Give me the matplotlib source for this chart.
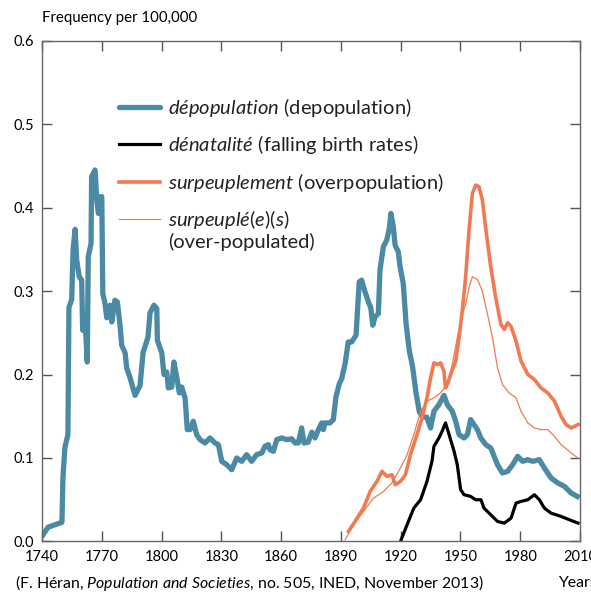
import numpy as np
import matplotlib
matplotlib.use("Agg")
import matplotlib.pyplot as plt
from matplotlib.lines import Line2D

plt.rcParams['font.family'] = ['Lato', 'DejaVu Sans']
plt.rcParams['mathtext.fontset'] = 'custom'
plt.rcParams['mathtext.it'] = 'Lato:italic'
plt.rcParams['mathtext.rm'] = 'Lato'

# dépopulation
depop_years = [1740.5, 1743.0, 1750.0, 1750.5, 1751.5, 1753.0, 1753.5, 1754.9, 1755.6, 1756.6,
               1757.4, 1758.7, 1759.9, 1760.4, 1761.6, 1762.7, 1763.2, 1764.6, 1764.9, 1766.6,
               1767.5, 1768.3, 1769.1, 1770.0, 1770.5, 1771.6, 1772.5, 1774.1, 1775.0, 1776.6,
               1777.8, 1779.1, 1780.0, 1781.7, 1782.5, 1784.2, 1786.7, 1789.2, 1790.7, 1793.2,
               1794.2, 1796.2, 1797.6, 1797.9, 1800.1, 1801.2, 1802.6, 1803.4, 1805.1, 1806.2,
               1807.6, 1808.9, 1810.1, 1811.8, 1812.9, 1814.3, 1815.9, 1817.6, 1819.3, 1821.8,
               1824.3, 1826.8, 1828.5, 1830.2, 1832.7, 1835.2, 1837.7, 1840.2, 1842.7, 1845.2,
               1847.7, 1850.3, 1851.9, 1853.6, 1854.4, 1856.1, 1857.8, 1860.3, 1862.8, 1865.3,
               1867.0, 1868.6, 1870.3, 1871.5, 1873.6, 1875.4, 1877.0, 1878.7, 1880.4, 1881.2,
               1882.0, 1884.5, 1886.2, 1887.5, 1889.2, 1890.4, 1892.1, 1893.7, 1895.4, 1897.6,
               1899.2, 1900.4, 1902.1, 1903.8, 1905.0, 1906.0, 1907.1, 1908.8, 1909.6, 1911.3,
               1913.0, 1914.3, 1915.1, 1916.3, 1917.2, 1918.8, 1919.7, 1921.3, 1922.7, 1924.3,
               1926.0, 1927.7, 1929.4, 1931.1, 1933.1, 1935.0, 1936.7, 1939.2, 1941.7, 1943.4,
               1945.9, 1947.6, 1949.3, 1951.8, 1953.5, 1955.1, 1956.8, 1958.5, 1960.2, 1962.7,
               1965.2, 1968.6, 1971.1, 1973.7, 1976.2, 1978.7, 1981.2, 1983.7, 1986.3, 1989.6,
               1992.1, 1995.5, 1998.9, 2002.2, 2005.6, 2008.6]
depop_vals = [0.008, 0.017, 0.023, 0.077, 0.113, 0.128, 0.280, 0.290, 0.350, 0.374,
              0.337, 0.317, 0.313, 0.253, 0.265, 0.215, 0.341, 0.357, 0.437, 0.445,
              0.409, 0.393, 0.413, 0.413, 0.297, 0.285, 0.268, 0.283, 0.263, 0.289,
              0.287, 0.260, 0.235, 0.226, 0.208, 0.196, 0.175, 0.187, 0.226, 0.245,
              0.274, 0.283, 0.279, 0.241, 0.226, 0.200, 0.203, 0.184, 0.185, 0.215,
              0.197, 0.178, 0.185, 0.172, 0.134, 0.134, 0.144, 0.128, 0.122, 0.118,
              0.124, 0.118, 0.116, 0.096, 0.092, 0.086, 0.100, 0.096, 0.104, 0.096,
              0.104, 0.106, 0.114, 0.116, 0.110, 0.108, 0.122, 0.124, 0.122, 0.123,
              0.118, 0.118, 0.136, 0.118, 0.119, 0.131, 0.124, 0.134, 0.142, 0.134,
              0.142, 0.142, 0.146, 0.173, 0.189, 0.195, 0.213, 0.239, 0.239, 0.247,
              0.311, 0.313, 0.299, 0.287, 0.280, 0.259, 0.269, 0.273, 0.325, 0.353,
              0.361, 0.375, 0.393, 0.377, 0.355, 0.347, 0.329, 0.309, 0.261, 0.229,
              0.209, 0.178, 0.155, 0.149, 0.149, 0.136, 0.156, 0.164, 0.175, 0.164,
              0.156, 0.144, 0.128, 0.124, 0.128, 0.146, 0.140, 0.134, 0.124, 0.116,
              0.112, 0.092, 0.082, 0.084, 0.092, 0.102, 0.096, 0.098, 0.096, 0.098,
              0.088, 0.076, 0.070, 0.066, 0.058, 0.054]

# dénatalité
denat_years = [1920.2, 1923.2, 1926.6, 1930.0, 1933.2, 1935.7, 1936.7, 1939.2, 1940.8, 1942.5,
               1944.3, 1946.8, 1948.4, 1950.1, 1951.8, 1955.1, 1957.6, 1960.3, 1961.8, 1965.2,
               1968.6, 1972.0, 1975.4, 1977.9, 1980.4, 1983.8, 1987.1, 1989.6, 1992.1, 1995.4,
               2000.5, 2004.7, 2009.0]
denat_vals = [0.002, 0.020, 0.040, 0.050, 0.072, 0.096, 0.114, 0.124, 0.132, 0.142,
              0.128, 0.108, 0.092, 0.062, 0.056, 0.054, 0.050, 0.050, 0.040, 0.032,
              0.024, 0.022, 0.028, 0.046, 0.048, 0.050, 0.056, 0.050, 0.040, 0.034,
              0.030, 0.026, 0.022]

# surpeuplement
surpl_years = [1893.8, 1897.1, 1901.3, 1904.7, 1908.1, 1910.6, 1913.1, 1915.6, 1917.3, 1919.9,
               1922.4, 1924.9, 1928.2, 1930.7, 1933.2, 1935.0, 1936.7, 1938.3, 1940.0, 1941.7,
               1942.5, 1943.4, 1945.1, 1947.6, 1949.3, 1950.9, 1952.6, 1954.3, 1956.0, 1957.7,
               1959.3, 1961.0, 1962.7, 1965.2, 1967.7, 1970.3, 1972.0, 1973.7, 1975.3, 1977.9,
               1980.4, 1983.8, 1987.1, 1990.4, 1993.8, 1997.2, 2000.5, 2003.0, 2005.6, 2009.0]
surpl_vals = [0.012, 0.024, 0.040, 0.060, 0.072, 0.084, 0.078, 0.080, 0.068, 0.072,
              0.080, 0.104, 0.128, 0.148, 0.172, 0.196, 0.214, 0.212, 0.214, 0.204,
              0.184, 0.188, 0.200, 0.216, 0.244, 0.276, 0.317, 0.373, 0.417, 0.427,
              0.425, 0.409, 0.375, 0.329, 0.292, 0.260, 0.254, 0.262, 0.258, 0.240,
              0.216, 0.200, 0.194, 0.184, 0.178, 0.168, 0.150, 0.140, 0.136, 0.140]

# surpeuplé(e)(s)
surpe_years = [1892.1, 1896.3, 1901.3, 1906.4, 1911.4, 1915.6, 1919.9, 1923.2, 1926.6, 1930.0,
               1933.2, 1936.7, 1940.0, 1943.4, 1945.9, 1948.4, 1950.9, 1952.6, 1954.3, 1956.0,
               1958.5, 1961.0, 1963.6, 1966.1, 1968.6, 1971.1, 1974.4, 1977.9, 1980.4, 1983.8,
               1987.1, 1990.4, 1993.8, 1997.2, 2000.5, 2005.6, 2009.0]
surpe_vals = [0.002, 0.020, 0.036, 0.052, 0.060, 0.070, 0.088, 0.104, 0.128, 0.156,
              0.168, 0.172, 0.178, 0.188, 0.212, 0.244, 0.272, 0.284, 0.304, 0.317,
              0.314, 0.300, 0.272, 0.244, 0.208, 0.188, 0.178, 0.172, 0.156, 0.142,
              0.136, 0.134, 0.134, 0.126, 0.116, 0.106, 0.100]

x_ticks = [1740, 1770, 1800, 1830, 1860, 1890, 1920, 1950, 1980, 2010]
y_ticks = [0.0, 0.1, 0.2, 0.3, 0.4, 0.5, 0.6]

blue = '#4a8aa4'
orange = '#f07a52'

fig = plt.figure(figsize=(5.91, 5.97), dpi=100)
ax = fig.add_axes([0.0711, 0.093, 0.9103, 0.839])

ax.plot(depop_years, depop_vals, color=blue, lw=3.8, solid_joinstyle='round')
ax.plot(denat_years, denat_vals, color='black', lw=2.3)
ax.plot(surpl_years, surpl_vals, color=orange, lw=2.6)
ax.plot(surpe_years, surpe_vals, color=orange, lw=0.9)

ax.set_xlim(1740, 2010)
ax.set_ylim(0, 0.6)
ax.set_xticks(x_ticks)
ax.set_yticks(y_ticks)
ax.set_yticklabels([f'{v:.1f}' for v in y_ticks])
ax.tick_params(direction='in', length=7, width=1, color='#555555', labelsize=10.5,
               top=True, right=True, pad=6)
for s in ax.spines.values():
    s.set_color('#666666')
    s.set_linewidth(1)

handles = [Line2D([], [], color=blue, lw=3.8, solid_capstyle='round'),
           Line2D([], [], color='black', lw=2.3),
           Line2D([], [], color=orange, lw=2.6),
           Line2D([], [], color=orange, lw=0.9)]
labels = [r'$\mathit{dépopulation}$ (depopulation)',
          r'$\mathit{dénatalité}$ (falling birth rates)',
          r'$\mathit{surpeuplement}$ (overpopulation)',
          r'$\mathit{surpeuplé(e)(s)}$']
leg = ax.legend(handles, labels, loc='upper left', bbox_to_anchor=(0.129, 0.906),
                frameon=False, fontsize=14.5, handlelength=2.0, handletextpad=0.4,
                labelspacing=0.72, borderaxespad=0)
for t in leg.get_texts():
    t.set_color('#222222')
# second line of the last legend entry, hung under its first line
ax.annotate('(over-populated)', xy=(0, 0), xycoords=leg.get_texts()[3],
            xytext=(0, -1), textcoords='offset points', va='top', ha='left',
            fontsize=14.5, color='#222222', zorder=10)

fig.text(42 / 591, 1 - 18 / 597, 'Frequency per 100,000', fontsize=10.8, va='center', ha='left')
fig.text(15 / 591, 1 - 583 / 597,
         r'(F. Héran, $\mathit{Population\ and\ Societies}$, no. 505, INED, November 2013)',
         fontsize=11.4, va='center', ha='left')
fig.text(558 / 591, 1 - 583 / 597, 'Years', fontsize=11.4, va='center', ha='left')

fig.savefig('out.png', dpi=100)
